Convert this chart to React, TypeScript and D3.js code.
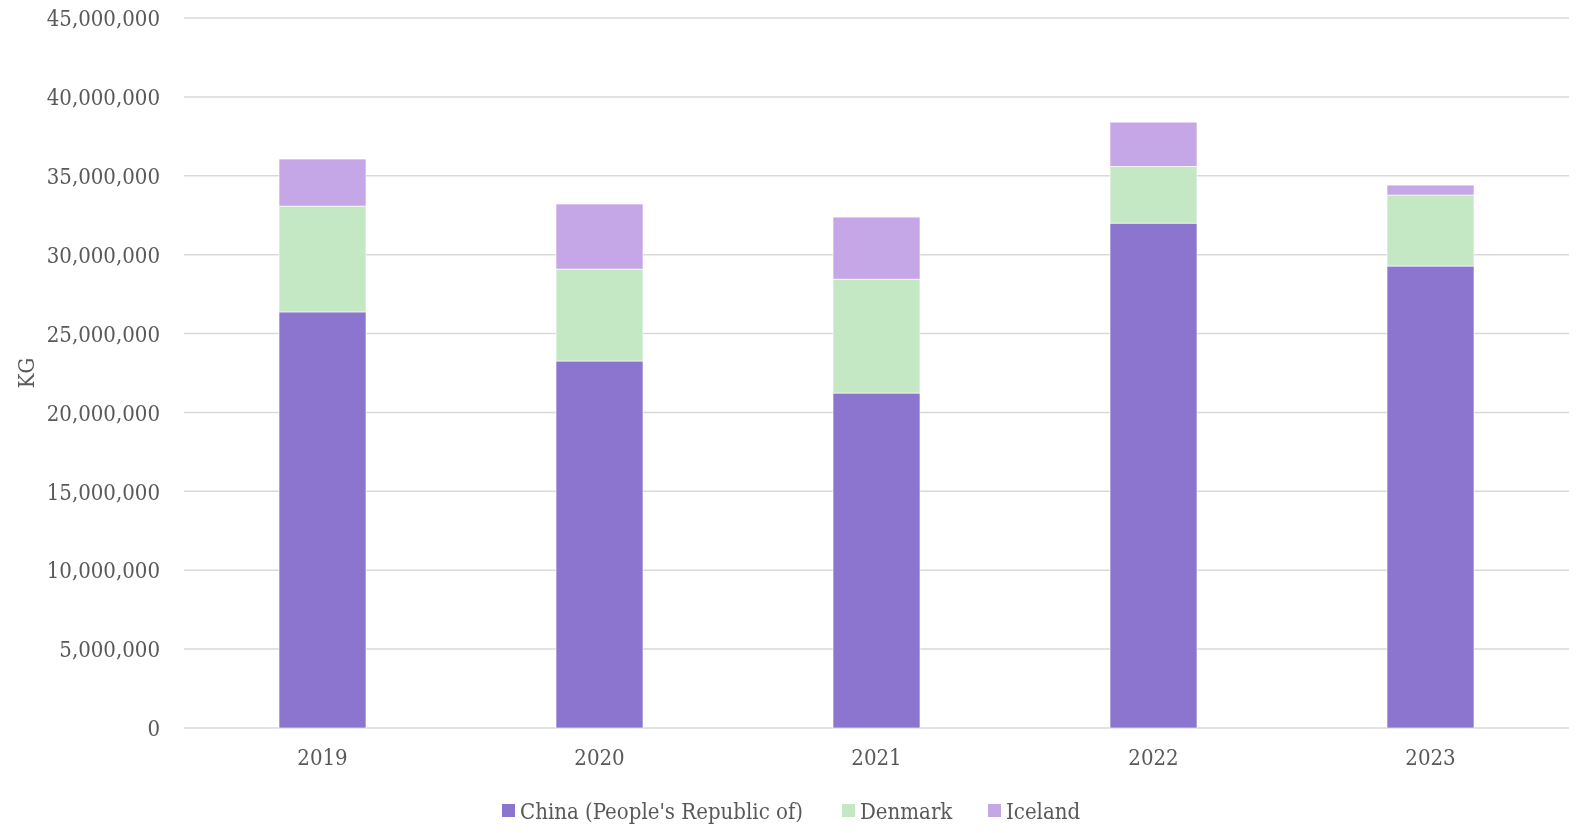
import React, { useEffect, useRef } from 'react';
import * as d3 from 'd3';

const years = ['2019', '2020', '2021', '2022', '2023'];
const china = [26370000, 23260000, 21230000, 32000000, 29280000];
const denmark = [6710000, 5830000, 7220000, 3600000, 4500000];
const iceland = [2980000, 4120000, 3930000, 2800000, 630000];
const seriesNames = ["China (People's Republic of)", 'Denmark', 'Iceland'];
const seriesColors = ['#8b75ce', '#c4e8c4', '#c5a6e6'];
const yTicks = [0, 5e6, 10e6, 15e6, 20e6, 25e6, 30e6, 35e6, 40e6, 45e6];

const W = 1577;
const H = 833;

export default function App() {
  const svgRef = useRef<SVGSVGElement>(null);

  useEffect(() => {
    if (!svgRef.current) return;
    const svg = d3.select(svgRef.current);
    svg.selectAll('*').remove();

    const margin = { top: 18, right: 8, bottom: 105, left: 184 };
    const font = "'DejaVu Serif Condensed', 'DejaVu Serif', serif";
    const textColor = '#595959';
    const fontSize = '22px';

    const rows = years.map((y, i) => ({
      year: y,
      china: china[i],
      denmark: denmark[i],
      iceland: iceland[i],
    }));

    const x = d3.scaleBand()
      .domain(years)
      .range([margin.left, W - margin.right])
      .paddingInner(0.686)
      .paddingOuter(0.343);

    const y = d3.scaleLinear()
      .domain([0, 45e6])
      .range([H - margin.bottom, margin.top]);

    // Grid lines
    svg.append('g')
      .selectAll('line')
      .data(yTicks)
      .enter()
      .append('line')
      .attr('x1', margin.left)
      .attr('x2', W - margin.right)
      .attr('y1', d => y(d))
      .attr('y2', d => y(d))
      .attr('stroke', '#d9d9d9')
      .attr('stroke-width', 1.5);

    // Stacked bars
    const stack = d3.stack<any>().keys(['china', 'denmark', 'iceland']);
    const layers = stack(rows);

    svg.append('g')
      .selectAll('g')
      .data(layers)
      .enter()
      .append('g')
      .attr('fill', (_, i) => seriesColors[i])
      .selectAll('rect')
      .data(d => d)
      .enter()
      .append('rect')
      .attr('x', d => x(d.data.year)!)
      .attr('y', d => y(d[1]))
      .attr('width', x.bandwidth())
      .attr('height', d => y(d[0]) - y(d[1]))
      .attr('stroke', '#ffffff')
      .attr('stroke-width', 0.6);

    // Y axis labels
    svg.append('g')
      .attr('transform', `translate(${margin.left - 21},0)`)
      .call(d3.axisLeft(y).tickValues(yTicks).tickSize(0).tickFormat(d3.format(',') as any))
      .call(g => g.select('.domain').remove())
      .call(g => g.selectAll('.tick text')
        .attr('fill', textColor)
        .attr('font-family', font)
        .attr('font-size', fontSize)
        .attr('dy', '0.35em'));

    // X axis labels
    svg.append('g')
      .attr('transform', `translate(0,${H - margin.bottom})`)
      .call(d3.axisBottom(x).tickSize(0).tickPadding(21))
      .call(g => g.select('.domain').remove())
      .call(g => g.selectAll('.tick text')
        .attr('fill', textColor)
        .attr('font-family', font)
        .attr('font-size', fontSize));

    // Y axis title
    svg.append('text')
      .attr('transform', `translate(34,${(y(0) + y(45e6)) / 2}) rotate(-90)`)
      .attr('text-anchor', 'middle')
      .attr('fill', textColor)
      .attr('font-family', font)
      .attr('font-size', fontSize)
      .text('KG');

    // Legend
    const legendX = [502, 842, 988];
    const legend = svg.append('g').attr('transform', 'translate(0,811)');
    seriesNames.forEach((name, i) => {
      legend.append('rect')
        .attr('x', legendX[i])
        .attr('y', -7)
        .attr('width', 13)
        .attr('height', 13)
        .attr('fill', seriesColors[i]);
      legend.append('text')
        .attr('x', legendX[i] + 18)
        .attr('y', 0)
        .attr('dy', '0.35em')
        .attr('fill', textColor)
        .attr('font-family', font)
        .attr('font-size', fontSize)
        .text(name);
    });
  }, []);

  return <svg ref={svgRef} width={W} height={H} style={{ display: 'block', position: 'fixed', left: 0, top: 0 }} />;
}
